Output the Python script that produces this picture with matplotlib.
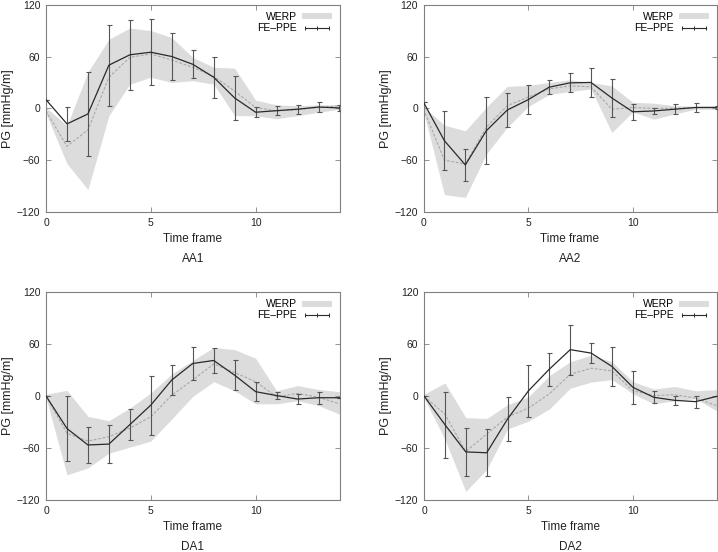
import matplotlib
matplotlib.use("Agg")
import matplotlib.pyplot as plt
from matplotlib.patches import Patch
from matplotlib.lines import Line2D
import numpy as np

plt.rcParams['font.family'] = ['Liberation Sans', 'DejaVu Sans']

time_frames = list(range(15))
panel_names = ["AA1", "AA2", "DA1", "DA2"]

# ---- AA1 ----
aa1_fe_mean = [10, -18, -6.5, 50, 62, 65, 60, 51, 36, 12, -4.5, -2.7, -1, 1.5, 0.5]
aa1_fe_err = [0, 19.5, 48.5, 47, 40.5, 38.5, 27, 16, 23.5, 26, 6, 5, 5, 5.5, 3]
aa1_werp_mean = [-3, -44, -25, 36, 59, 63, 56, 47.5, 37, 20, 1, -3, -1.5, 1, 3]
aa1_werp_hi = [1, -20, 42, 80, 93, 90, 82, 59, 47.5, 46.5, 9.5, 4, 3, 4, 4]
aa1_werp_lo = [-6, -64, -94, -8.5, 28, 36, 30, 32, 28, -8.5, -8.5, -12, -8.5, -4.5, -1]

# ---- AA2 ----
aa2_fe_mean = [7, -37.5, -65.5, -26, -2, 10, 24.5, 29.5, 30, 12, -4, -3, -1, 1, 1]
aa2_fe_err = [0, 34, 19, 39, 20, 17, 8, 11, 16.5, 21.5, 9, 3.5, 6, 5, 2]
aa2_werp_mean = [-1, -60, -64.5, -22, 3, 13, 22.5, 26, 25, -1, 1, 0, 0, 1, 1]
aa2_werp_hi = [2, -19.5, -26, 1, 25.5, 26.5, 30, 33, 30, 26, 7, 6, 3, 2.5, 3]
aa2_werp_lo = [-3, -100, -103, -53, -22, 2, 16, 19.5, 22.5, -28, -4, -12.5, -6.5, -1, -1]

# ---- DA1 ----
da1_fe_mean = [0, -37.5, -56.5, -55.5, -33, -10.5, 18.5, 37.5, 41, 24, 5, 0.5, -3.5, -2, -2]
da1_fe_err = [0, 38, 20.5, 22, 18, 34, 17.5, 18.5, 14, 17, 11, 4.5, 6, 7, 0]
da1_werp_mean = [0, -43, -52, -47, -37, -24, 1, 18.5, 37, 27, 16.5, -1, 3, -1.5, -9]
da1_werp_hi = [2, 6.5, -23.5, -28.5, -14, 3.5, 25.5, 41, 56, 53.5, 43.5, 6, 12, 7.5, 5]
da1_werp_lo = [-2, -91, -83, -66, -59, -52, -26.5, -0.5, 16.5, 6, -9, -9, -5.5, -11, -21]

# ---- DA2 ----
da2_fe_mean = [0, -33, -64.5, -65.5, -26.5, 6, 31, 53.5, 49.5, 34, 10, -1.5, -5, -6.5, -0.5]
da2_fe_err = [0, 38, 28, 27, 25, 30, 19, 29, 11.5, 23, 19, 7, 5, 7, 0]
da2_werp_mean = [0, -21, -64, -44, -24, -14, 2.5, 25, 32, 29, 6, 0.5, 1.5, -2.5, -11]
da2_werp_hi = [2, 15, -25, -26, -10, -1, 23.5, 39.5, 47, 39.5, 16.5, 8, 11, 6, 7.3]
da2_werp_lo = [-2, -50, -110, -85, -38, -29, -15, 9, 16, 19, 2.5, -9, -5.5, -3, -17]

panels = [
    (aa1_fe_mean, aa1_fe_err, aa1_werp_mean, aa1_werp_lo, aa1_werp_hi),
    (aa2_fe_mean, aa2_fe_err, aa2_werp_mean, aa2_werp_lo, aa2_werp_hi),
    (da1_fe_mean, da1_fe_err, da1_werp_mean, da1_werp_lo, da1_werp_hi),
    (da2_fe_mean, da2_fe_err, da2_werp_mean, da2_werp_lo, da2_werp_hi),
]

x_ticks = [0, 5, 10]
y_ticks = [-120, -60, 0, 60, 120]

W, H = 718, 552
fig = plt.figure(figsize=(W / 100, H / 100), dpi=100)

# pixel boxes: left, top, right, bottom
boxes = [(46, 4.7, 339.5, 212), (423.5, 4.7, 716.5, 212),
         (46, 292, 339.5, 500), (424, 292, 716.5, 500)]

band_color = '#dcdcdc'
line_color = '#2a2a2a'
err_color = '#555555'
dash_color = '#a8a8a8'
spine_color = '#808080'

for name, box, data in zip(panel_names, boxes, panels):
    fe_mean, fe_err, w_mean, w_lo, w_hi = data
    l, t, r, b = box
    ax = fig.add_axes([l / W, 1 - b / H, (r - l) / W, (b - t) / H])
    ax.fill_between(time_frames, w_lo, w_hi, color=band_color, lw=0, zorder=1)
    ax.plot(time_frames, w_mean, ls=(0, (2.5, 1.5)), color=dash_color, lw=0.8, zorder=2)
    ax.errorbar(time_frames, fe_mean, yerr=fe_err, color=line_color, lw=0.9,
                ecolor=err_color, elinewidth=0.8, capsize=1.8, capthick=0.8, zorder=3)
    ax.set_xlim(0, 14)
    ax.set_ylim(-120, 120)
    ax.set_xticks(x_ticks)
    ax.set_yticks(y_ticks)
    ax.tick_params(direction='in', top=True, right=True, length=3.5, width=0.6,
                   color=spine_color, labelsize=7.5, labelcolor='#222222', pad=4)
    for sp in ax.spines.values():
        sp.set_color(spine_color)
        sp.set_linewidth(0.8)
    ax.set_xlabel("Time frame", fontsize=8.5, labelpad=4, color='#222222')
    ax.set_ylabel("PG [mmHg/m]", fontsize=9, color='#222222', va='center')
    ax.yaxis.set_label_coords(-37.5 / (r - l), 0.5)
    ax.text(0.5, -(47 / (b - t)), name, transform=ax.transAxes, ha='center', va='center',
            fontsize=8.5, color='#222222')
    handles = [Patch(facecolor=band_color, edgecolor='none'),
               Line2D([], [], color=line_color, lw=0.8, marker='|', markersize=3.5,
                      markeredgewidth=0.7)]
    ax.legend(handles, ["WERP", "FE\u2013PPE"], loc='upper right', frameon=False,
              markerfirst=False, fontsize=7.5, handlelength=2.9, handleheight=0.5,
              numpoints=3, borderaxespad=0.3, labelspacing=0.1, handletextpad=0.5)

fig.savefig("out.png", dpi=100)
